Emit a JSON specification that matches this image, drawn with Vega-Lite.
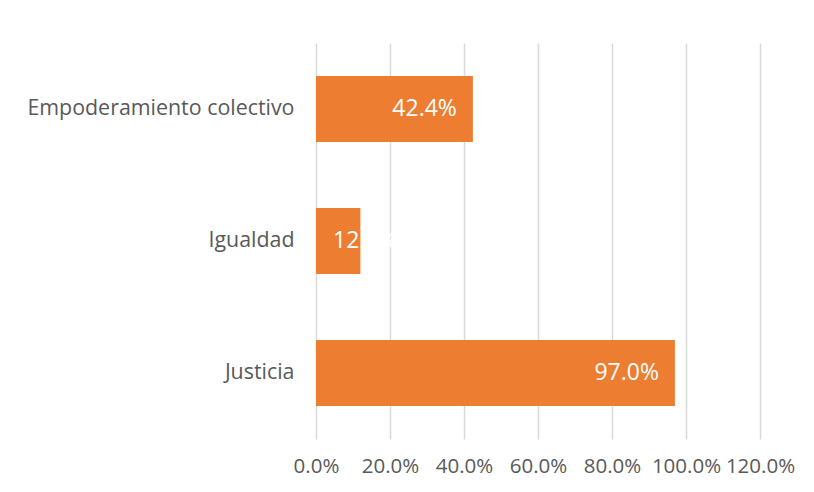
{
  "$schema": "https://vega.github.io/schema/vega-lite/v6.json",
  "width": 444,
  "height": 396,
  "autosize": "none",
  "padding": {"left": 316, "top": 43, "right": 54, "bottom": 53},
  "background": "white",
  "config": {
    "view": {"stroke": null},
    "font": "Open Sans",
    "axis": {"labelFont": "Open Sans", "labelColor": "#595959", "labelFontSize": 20.5, "domain": false, "ticks": false, "title": null}
  },
  "data": {
    "values": [
      {"categoria": "Empoderamiento colectivo", "valor": 0.424},
      {"categoria": "Igualdad", "valor": 0.12},
      {"categoria": "Justicia", "valor": 0.97}
    ]
  },
  "encoding": {
    "y": {
      "field": "categoria",
      "type": "nominal",
      "sort": null,
      "scale": {"paddingInner": 0.5, "paddingOuter": 0.25},
      "axis": {"grid": false, "labelPadding": 22, "labelLimit": 400, "labelFontSize": 21.4}
    }
  },
  "layer": [
    {
      "mark": {"type": "bar", "color": "#ED7D31"},
      "encoding": {
        "x": {
          "field": "valor",
          "type": "quantitative",
          "scale": {"domain": [0, 1.2], "nice": false},
          "axis": {
            "values": [0, 0.2, 0.4, 0.6, 0.8, 1.0, 1.2],
            "format": ".1%",
            "grid": true,
            "gridColor": "#d9d9d9",
            "gridWidth": 1.5,
            "labelPadding": 17,
            "labelFlush": false
          }
        }
      }
    },
    {
      "transform": [{"filter": "datum.valor > 0.2"}],
      "mark": {"type": "text", "color": "white", "fontSize": 23, "align": "right", "dx": -16, "baseline": "middle", "font": "Open Sans"},
      "encoding": {
        "x": {"field": "valor", "type": "quantitative"},
        "text": {"field": "valor", "type": "quantitative", "format": ".1%"}
      }
    },
    {
      "transform": [{"filter": "datum.valor <= 0.2"}],
      "mark": {"type": "text", "color": "white", "fontSize": 23, "align": "left", "dx": 17, "baseline": "middle", "font": "Open Sans"},
      "encoding": {
        "x": {"datum": 0, "type": "quantitative"},
        "text": {"field": "valor", "type": "quantitative", "format": ".1%"}
      }
    }
  ]
}
